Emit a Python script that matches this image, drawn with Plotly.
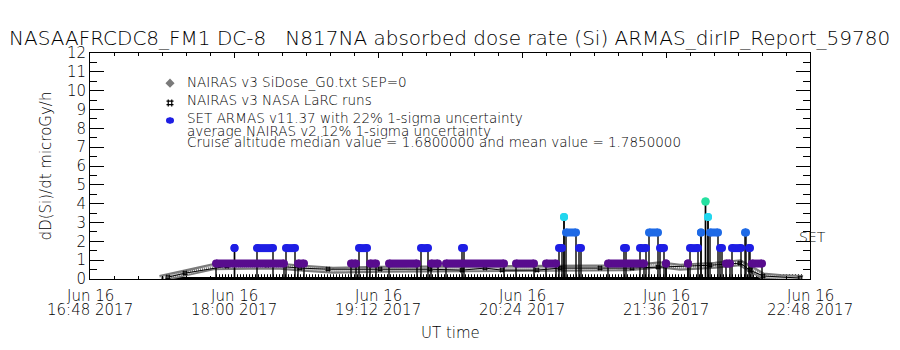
import plotly.graph_objects as go

DAY = "2017-06-16 "

# ---------------- data ----------------
# ARMAS quantized dose-rate levels (microGy/h)
levels = [0.82, 1.64, 2.47, 3.29, 4.11]
level_colors = ["#580c8e", "#1e1ee4", "#1e6ae6", "#22d6ee", "#26e0a0"]

# ARMAS bars: start / end UT time for each level
purple_start = ["17:51:00", "18:32:00", "18:58:30", "19:08:00", "19:17:30", "19:38:30", "19:46:00",
                "20:21:00", "20:36:00", "21:07:00", "21:36:00", "21:47:00", "22:06:00", "22:19:00"]
purple_end = ["18:25:00", "18:35:00", "19:01:00", "19:11:00", "19:31:30", "19:42:00", "20:15:00",
              "20:30:00", "20:41:00", "21:25:00", "21:36:00", "21:47:00", "22:08:00", "22:24:00"]
blue_start = ["18:00:15", "18:11:30", "18:26:00", "19:02:30", "19:33:30", "19:54:00", "20:42:30",
              "20:52:30", "21:15:00", "21:23:00", "21:33:00", "21:48:00", "22:03:00", "22:09:00", "22:17:30"]
blue_end = ["18:00:15", "18:19:30", "18:30:30", "19:06:30", "19:37:00", "19:55:00", "20:44:00",
            "20:53:30", "21:16:00", "21:26:00", "21:35:00", "21:52:00", "22:04:00", "22:13:30", "22:18:00"]
lblue_start = ["20:46:00", "21:27:30", "21:53:30", "21:58:00", "22:15:30"]
lblue_end = ["20:51:00", "21:32:00", "21:53:30", "22:02:00", "22:16:00"]
cyan_start = ["20:45:00", "21:57:00"]
cyan_end = ["20:45:00", "21:57:00"]
green_start = ["21:55:45"]
green_end = ["21:55:45"]

# ARMAS zero-level readings (baseline)
zero_start = ["17:27:00", "17:51:00"]
zero_end = ["22:44:00", "22:44:00"]
zero_level = [0.03, 0.15]

# NAIRAS v3 SiDose_G0 (SEP=0)
nairas_t = ["17:23:00", "17:27:00", "17:36:30", "17:43:00", "17:49:30", "18:08:00", "18:23:00",
            "18:33:00", "18:49:30", "19:13:00", "19:46:30", "20:19:30", "20:43:00", "21:18:00",
            "21:33:00", "21:43:00", "22:00:30", "22:13:00", "22:19:30", "22:24:30", "22:33:00", "22:44:30"]
nairas_v = [0.03, 0.13, 0.31, 0.47, 0.65, 0.68, 0.68, 0.58, 0.47, 0.52, 0.52, 0.55, 0.55, 0.60,
            0.75, 0.63, 0.73, 0.86, 0.47, 0.16, 0.08, 0.03]

# NAIRAS v3 NASA LaRC runs
larc_t = ["17:27:00", "17:35:30", "17:56:30", "18:16:30", "18:33:00", "18:47:00", "19:13:00",
          "19:38:00", "19:54:00", "20:05:30", "20:14:00", "20:31:30", "20:43:00", "21:03:00",
          "21:19:00", "21:32:00", "21:58:00", "22:13:00", "22:18:00", "22:24:30", "22:43:00"]
larc_v = [0.10, 0.31, 0.68, 0.73, 0.58, 0.52, 0.52, 0.52, 0.47, 0.58, 0.47, 0.47, 0.58, 0.58,
          0.58, 0.63, 0.73, 0.84, 0.47, 0.16, 0.05]

tick_times = ["16:48", "18:00", "19:12", "20:24", "21:36", "22:48"]
tick_date = "Jun 16"
tick_year = "2017"

title_text = "NASAAFRCDC8_FM1 DC-8\u00a0\u00a0\u00a0N817NA absorbed dose rate (Si) ARMAS_dirIP_Report_59780"
legend_lines = ["NAIRAS v3 SiDose_G0.txt SEP=0",
                "NAIRAS v3 NASA LaRC runs",
                "SET ARMAS v11.37 with 22% 1-sigma uncertainty",
                "average NAIRAS v2 12% 1-sigma uncertainty",
                "Cruise altitude median value = 1.6800000 and mean value = 1.7850000"]

FONT = "DejaVu Sans"
W_TXT = 300
M_L, M_R, M_T, M_B = 90, 90, 53, 71
PW, PH = 900 - M_L - M_R, 350 - M_T - M_B


def T(s):
    return DAY + s


def px(p):   # pixel column -> paper x
    return (p - M_L) / PW


def py(p):   # pixel row -> paper y
    return 1 - (p - M_T) / PH


def fnt(size):
    return dict(family=FONT, size=size, color="black", weight=W_TXT)


fig = go.Figure()

# ARMAS zero baseline
for s, e, lv, w, d in zip(zero_start, zero_end, zero_level, [3, 4], ["solid", "1px,2px"]):
    fig.add_trace(go.Scatter(x=[T(s), T(e)], y=[lv, lv], mode="lines",
                             line=dict(color="black", width=w, dash=d), hoverinfo="skip"))

# NAIRAS SiDose band
fig.add_trace(go.Scatter(x=[T(t) for t in nairas_t], y=nairas_v, mode="lines",
                         line=dict(color="#7a7a7a", width=7), hoverinfo="skip"))
fig.add_trace(go.Scatter(x=[T(t) for t in nairas_t], y=nairas_v, mode="lines",
                         line=dict(color="#ffffff", width=3, dash="1px,1px"), hoverinfo="skip"))

# LaRC runs
fig.add_trace(go.Scatter(x=[T(t) for t in larc_t], y=larc_v, mode="lines+markers",
                         line=dict(color="black", width=1),
                         marker=dict(symbol="hash", size=5, color="black", line=dict(width=1, color="black")),
                         hoverinfo="skip"))

bar_sets = [(purple_start, purple_end), (blue_start, blue_end), (lblue_start, lblue_end),
            (cyan_start, cyan_end), (green_start, green_end)]

# black connector lines of the ARMAS trace
cx, cy = [], []
for (starts, ends), lv in zip(bar_sets, levels):
    for s, e in zip(starts, ends):
        for t in (s, e):
            cx += [T(t), T(t), None]
            cy += [lv, 0, None]
fig.add_trace(go.Scatter(x=cx, y=cy, mode="lines", line=dict(color="black", width=1.4),
                         hoverinfo="skip"))

# ARMAS coloured bars
for (starts, ends), lv, col in zip(bar_sets, levels, level_colors):
    bx, by = [], []
    for s, e in zip(starts, ends):
        bx += [T(s), T(e), None]
        by += [lv, lv, None]
    fig.add_trace(go.Scatter(x=bx, y=by, mode="lines+markers",
                             line=dict(color=col, width=8),
                             marker=dict(symbol="circle", size=8, color=col),
                             hoverinfo="skip"))

# legend symbols (drawn in data space at the legend position)
fig.add_trace(go.Scatter(x=[T("17:28:00")], y=[10.4], mode="markers",
                         marker=dict(symbol="diamond", size=7, color="#7a7a7a"), hoverinfo="skip"))
fig.add_trace(go.Scatter(x=[T("17:28:00")], y=[9.35], mode="markers",
                         marker=dict(symbol="hash", size=7, color="black", line=dict(width=1.2, color="black")),
                         hoverinfo="skip"))
fig.add_trace(go.Scatter(x=[T("17:27:30"), T("17:28:30")], y=[8.42, 8.42], mode="lines+markers",
                         line=dict(color=level_colors[1], width=6),
                         marker=dict(symbol="circle", size=6, color=level_colors[1]), hoverinfo="skip"))

annotations = []
ly = [82, 100, 118, 131, 142]
for txt, p in zip(legend_lines, ly):
    annotations.append(dict(text=txt, xref="paper", yref="paper", x=px(185), y=py(p),
                            xanchor="left", yanchor="middle", showarrow=False, font=fnt(13.5)))
annotations.append(dict(text=title_text, xref="paper", yref="paper", x=px(449), y=py(38),
                        xanchor="center", yanchor="middle", showarrow=False, font=fnt(20)))
annotations.append(dict(text="SET", xref="paper", yref="paper", x=px(797), y=py(237),
                        xanchor="left", yanchor="middle", showarrow=False, font=fnt(14)))
# two-line x tick labels placed at the tick times
for t in tick_times:
    annotations.append(dict(text=tick_date, xref="x", yref="paper", x=T(t), y=py(296),
                            xanchor="center", yanchor="middle", showarrow=False, font=fnt(15)))
    annotations.append(dict(text=t + " " + tick_year, xref="x", yref="paper", x=T(t), y=py(310),
                            xanchor="center", yanchor="middle", showarrow=False, font=fnt(15)))
annotations.append(dict(text="UT time", xref="paper", yref="paper", x=0.5, y=py(333),
                        xanchor="center", yanchor="middle", showarrow=False, font=fnt(15)))

fig.update_layout(
    width=900, height=350,
    margin=dict(l=M_L, r=M_R, t=M_T, b=M_B),
    paper_bgcolor="white", plot_bgcolor="white",
    showlegend=False,
    font=fnt(15),
    annotations=annotations,
    xaxis=dict(type="date", range=[T("16:48"), T("22:48")],
               tickvals=[T(t) for t in tick_times], showticklabels=False,
               ticks="inside", ticklen=5, tickcolor="black", mirror="allticks",
               showline=True, linecolor="black", linewidth=1, showgrid=False, zeroline=False,
               minor=dict(ticks="inside", ticklen=3, tickcolor="black",
                          dtick=12 * 60 * 1000, tick0=T("16:48"), showgrid=False)),
    yaxis=dict(range=[0, 12], dtick=1, tick0=0,
               ticks="inside", ticklen=14, tickcolor="black", mirror="allticks",
               showline=True, linecolor="black", linewidth=1, showgrid=False, zeroline=False,
               minor=dict(ticks="inside", ticklen=7, tickcolor="black", dtick=0.5, showgrid=False),
               title=dict(text="dD(Si)/dt microGy/h", font=fnt(15), standoff=11),
               tickfont=fnt(15)),
)

fig.write_html("out.html")
